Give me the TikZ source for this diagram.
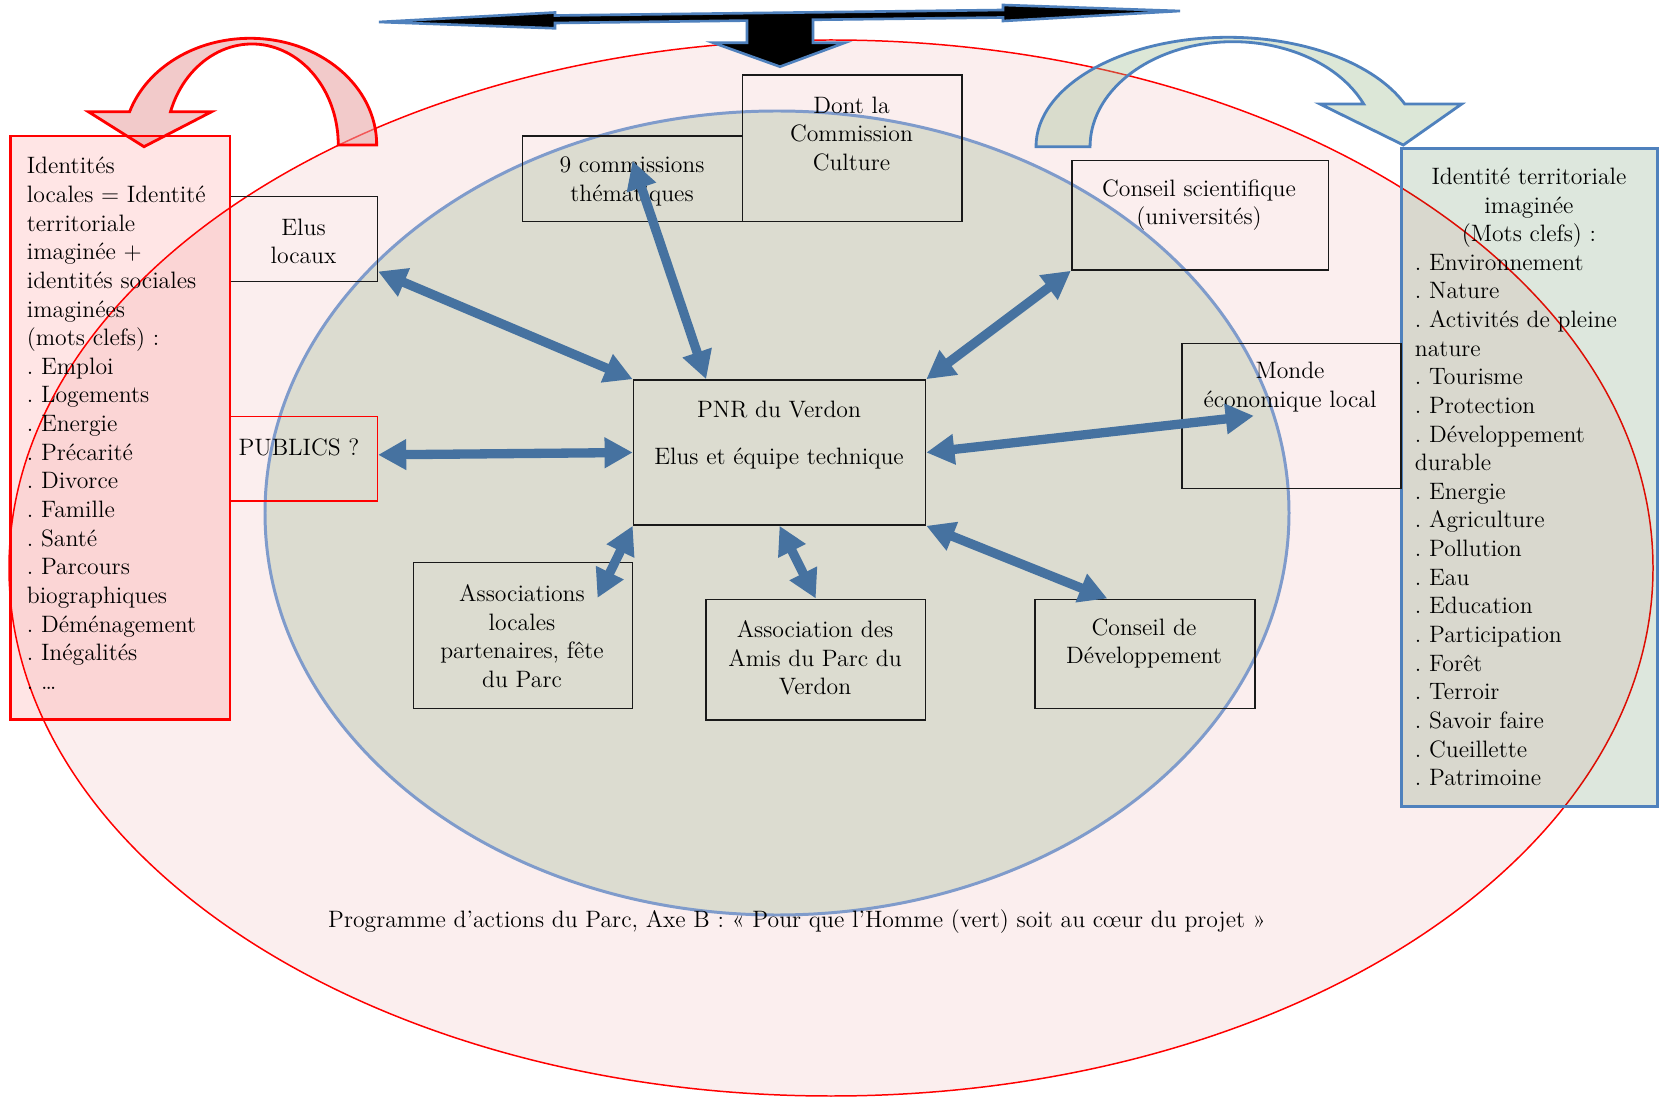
\documentclass[tikz,border=0pt]{standalone}
\usetikzlibrary{arrows.meta,calc,fit}
\definecolor{outerfill}{HTML}{FBEEEE}
\definecolor{innerfill}{HTML}{DCDCD0}
\definecolor{innerline}{HTML}{7F9BCB}
\definecolor{arrowblue}{HTML}{4672A0}
\definecolor{tblue}{HTML}{4F81BD}
\definecolor{greenarr}{HTML}{9BBB8F}
\definecolor{redarr}{HTML}{E8A0A0}
\frenchspacing
\begin{document}
\begin{tikzpicture}[x=0.02cm,y=-0.02cm,
  font=\fontsize{13.5}{16.3}\selectfont\frenchspacing,
  box/.style={draw=black!90, line width=0.9pt, inner sep=0pt},
  txt/.style={align=center, inner sep=0pt},
  listtxt/.style={align=left, inner sep=0pt},
  barrow/.style={draw=arrowblue, line width=5.3pt,
    {Triangle[length=16pt,width=16.5pt]}-{Triangle[length=16pt,width=16.5pt]}},
  tarrow/.style={fill=black, draw=tblue, line width=1.5pt, line join=miter},
  outerell/.style={fill=outerfill, draw=red, line width=0.85pt},
  innerell/.style={fill=innerfill, draw=innerline, line width=1.7pt},
  redcurve/.style={fill=redarr, fill opacity=0.55, draw=red, line width=1.6pt},
  greencurve/.style={fill=greenarr, fill opacity=0.35, draw=tblue, line width=1.6pt},
  redbox/.style={fill=red, fill opacity=0.1, draw=red, line width=1.7pt, inner sep=0pt},
  greenbox/.style={fill={rgb,255:red,29;green,95;blue,29}, fill opacity=0.15, draw=tblue, line width=1.7pt, inner sep=0pt}
]
\useasboundingbox (0,0) rectangle (1664,1104);
\fill[white] (0,0) rectangle (1664,1104);

% ellipses
\draw[outerell] (831,568) ellipse [x radius=822, y radius=528];
\draw[innerell] (777,513) ellipse [x radius=512, y radius=402];

% curved arrows
\draw[redcurve] (376.7,145) arc[start angle=0, end angle=-161.8, x radius=126.7, y radius=106.7]
  -- (88.3,111.7) -- (144,146.7) -- (211.7,111.7) -- (170.5,111.7)
  arc[start angle=-160.75, end angle=0, x radius=86.3, y radius=101] -- cycle;
\draw[greencurve] (1036,146.7) arc[start angle=-180, end angle=-23, x radius=192, y radius=109.4]
  -- (1461.7,104) -- (1403.3,145) -- (1320,104) -- (1363.7,104)
  arc[start angle=-24, end angle=-180, x radius=143, y radius=105] -- cycle;

% top T arrow
\draw[tarrow] (379,22) -- (555,12.5) -- (555,15.5) -- (1003,10) -- (1003,5) -- (1180,11)
  -- (1003,21) -- (1003,17.5) -- (813,19.8) -- (813,42.7) -- (845,42.7) -- (780,66.7)
  -- (713,42.7) -- (747,42.7) -- (747,20.6) -- (555,23) -- (555,28.3) -- cycle;

% boxes
\node[box, fit={(230,196.7) (377.3,281.7)}] (elus) {};
\node[box, draw=red, fit={(230,416.7) (377.3,501)}] (publics) {};
\node[redbox, fit={(10.6,136) (230,719.5)}] (leftbox) {};
\node[greenbox, fit={(1401,148.6) (1657.6,806.5)}] (rightbox) {};
\node[box, fit={(522.7,136) (742.3,221.7)}] (comm9) {};
\node[box, fit={(742.3,75) (961.7,221.7)}] (culture) {};
\node[box, fit={(1071.7,160.7) (1328.3,270)}] (cs) {};
\node[box, fit={(1181.7,343.3) (1401,488.3)}] (monde) {};
\node[box, fit={(633.5,380) (925.5,525)}] (pnr) {};
\node[box, fit={(413.3,562.7) (632.7,708.3)}] (assoc) {};
\node[box, fit={(706,599.3) (925.5,720)}] (amis) {};
\node[box, fit={(1035,599.3) (1255,708.3)}] (cd) {};

% texts
\node[listtxt, anchor=north west] (lefttxt) at (26.5,157) {Identités\\locales = Identité\\territoriale\\imaginée +\\identités sociales\\imaginées\\(mots clefs) :\\. Emploi\\. Logements\\. Energie\\. Précarité\\. Divorce\\. Famille\\. Santé\\. Parcours\\biographiques\\. Déménagement\\. Inégalités\\. \ldots};
\node[txt, anchor=north] (righthead) at (1529,167.7) {Identité territoriale\\imaginée\\(Mots clefs) :};
\node[listtxt, anchor=north west] (rightlist) at (1414.6,253.7) {. Environnement\\. Nature\\. Activités de pleine\\nature\\. Tourisme\\. Protection\\. Développement\\durable\\. Energie\\. Agriculture\\. Pollution\\. Eau\\. Education\\. Participation\\. Forêt\\. Terroir\\. Savoir faire\\. Cueillette\\. Patrimoine};
\node[txt] (elustxt) at (303.5,241.5) {Elus\\locaux};
\node[txt] (publicstxt) at (299,447) {PUBLICS ?};
\node[txt] (comm9txt) at (632,181.7) {9 commissions\\thématiques};
\node[txt] (culturetxt) at (851.5,134) {Dont la\\Commission\\Culture};
\node[txt] (cstxt) at (1199,205) {Conseil scientifique\\(universités)};
\node[txt] (mondetxt) at (1290,387) {Monde\\économique local};
\node[txt] (pnrtxt1) at (779,409.6) {PNR du Verdon};
\node[txt] (pnrtxt2) at (779,458.4) {Elus et équipe technique};
\node[txt] (assoctxt) at (522,636) {Associations\\locales\\partenaires, fête\\du Parc};
\node[txt] (amistxt) at (815,658) {Association des\\Amis du Parc du\\Verdon};
\node[txt] (cdtxt) at (1144,643.5) {Conseil de\\Développement};
\node[txt] (caption) at (797,922) {Programme d’actions du Parc, Axe B : « Pour que l’Homme (vert) soit au cœur du projet »};

% blue arrows
\draw[barrow] ($(elus.south east)+(0,-11)$) -- (pnr.north west);
\draw[barrow] ($(publics.east)+(0,-4)$) -- (pnr.west);
\draw[barrow] ($(comm9.center)+(0,-18)$) -- ($(pnr.north west)!0.25!(pnr.north east)$);
\draw[barrow] (cs.south west) -- (pnr.north east);
\draw[barrow] (pnr.east) -- ($(monde.west)!0.33!(monde.east)$);
\draw[barrow] (pnr.south west) -- ($(assoc.north east)+(-36,36)$);
\draw[barrow] (pnr.south) -- (amis.north);
\draw[barrow] (pnr.south east) -- ($(cd.north west)!0.33!(cd.north east)$);
\end{tikzpicture}
\end{document}
